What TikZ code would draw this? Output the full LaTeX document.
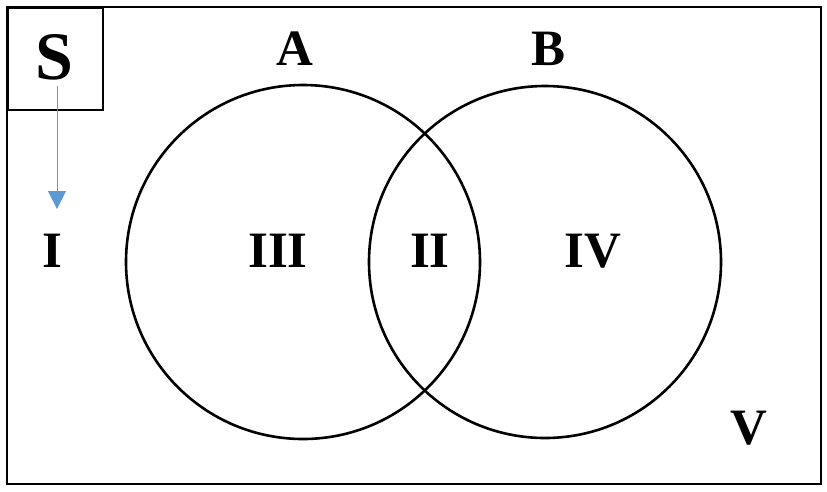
\documentclass[tikz,border=0pt]{standalone}
\usepackage{fontspec}
\setmainfont{Liberation Serif}
\usetikzlibrary{arrows.meta}
\definecolor{arrowblue}{HTML}{5B9BD5}
\begin{document}
\begin{tikzpicture}[x=1pt,y=-1pt,
  lbl/.style={inner sep=0pt,font=\fontsize{51}{51}\selectfont\bfseries},
  setcircle/.style={draw=black,line width=2.6pt},
  frame/.style={draw=black,line width=2pt}]
\useasboundingbox (0,0) rectangle (827,491);
\draw[frame] (7,7) rectangle (821,484);
\node[frame,minimum width=95pt,minimum height=102pt,anchor=north west,inner sep=0pt] (sbox) at (7,7) {};
\node[lbl,font=\fontsize{68}{68}\selectfont\bfseries] (S) at (54,57) {S};
\draw[setcircle] (303,262) circle (177);
\draw[setcircle] (545,262) circle (176);
\node[lbl] (A) at (295,49) {A};
\node[lbl] (B) at (549,49) {B};
\node[lbl] (I) at (52,251) {I};
\node[lbl] (III) at (278,251) {III};
\node[lbl] (II) at (430,251) {II};
\node[lbl] (IV) at (593,251) {IV};
\node[lbl] (V) at (749,428) {V};
\coordinate (tip) at (57,209);
\draw[arrowblue,line width=1pt,-{Triangle[length=18pt,width=18pt,fill=arrowblue,color=arrowblue]}] (57,86) -- (tip);
\end{tikzpicture}
\end{document}
